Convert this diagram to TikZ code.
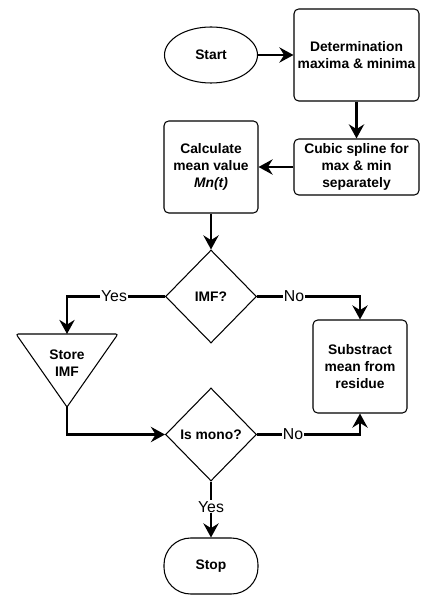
\documentclass[tikz,border=0pt]{standalone}
\usepackage{fontspec}
\setmainfont{Liberation Sans}
\usetikzlibrary{arrows.meta,shapes.geometric}

\begin{document}
\begin{tikzpicture}[x=0.03cm,y=-0.03cm,
    font=\fontsize{11.8}{14.5}\selectfont\bfseries,
    proc/.style={draw,line width=0.9pt,rounded corners=4pt,align=center,inner sep=2pt},
    term/.style={draw,line width=0.9pt,ellipse,inner sep=0pt,minimum width=2.79cm,minimum height=1.68cm},
    test/.style={draw,line width=0.9pt,diamond,aspect=1,inner sep=0pt,minimum width=2.73cm,minimum height=2.79cm},
    flow/.style={line width=2.5pt,-{Stealth[length=12pt,width=13pt,inset=4pt]}},
    lbl/.style={fill=white,inner sep=1pt,font=\fontsize{13.5}{15}\selectfont\mdseries}]
  \useasboundingbox (0,0) rectangle (420,598);

  % upper part
  \node[term] (start) at (211,55) {Start};
  \node[proc,minimum width=3.75cm,minimum height=2.76cm] (determ) at (356.5,55) {Determination\\maxima \& minima};
  \node[proc,minimum width=3.75cm,minimum height=1.68cm] (spline) at (356.5,167) {Cubic spline for\\max \& min\\separately};
  \node[proc,minimum width=2.82cm,minimum height=2.76cm] (calc) at (211,167) {Calculate\\mean value\\\textit{Mn(t)}};

  % decisions
  \node[test] (imf) at (211,296.5) {IMF?};
  \node[align=center,inner sep=0pt] (store) at (67,363) {Store\\IMF};
  \draw[line width=0.9pt] (67,407) [rounded corners=2pt] -- (16,334) -- (118,334) [sharp corners] -- cycle;
  \coordinate (store top) at (67,334);
  \coordinate (store tip) at (67,407);
  \node[proc,minimum width=2.82cm,minimum height=2.79cm] (subs) at (360,366.5) {Substract\\mean from\\residue};
  \node[test] (mono) at (211,434.5) {Is mono?};
  \node[draw,line width=0.9pt,rounded corners=0.8cm,minimum width=2.82cm,minimum height=1.68cm] (stop) at (211,566) {Stop};

  % connectors
  \draw[flow] (start) -- (determ);
  \draw[flow] (determ) -- (spline);
  \draw[flow] (spline) -- (calc);
  \draw[flow] (calc) -- (imf);
  \draw[flow] (imf.west) -| node[lbl,pos=0.26] {Yes} (store top);
  \draw[flow] (imf.east) -| node[lbl,pos=0.18] {No} (subs.north);
  \draw[flow] (store tip) |- (mono.west);
  \draw[flow] (mono.east) -| node[lbl,pos=0.175] {No} (subs.south);
  \draw[flow] (mono.south) -- node[lbl,pos=0.45] {Yes} (stop.north);
\end{tikzpicture}
\end{document}
